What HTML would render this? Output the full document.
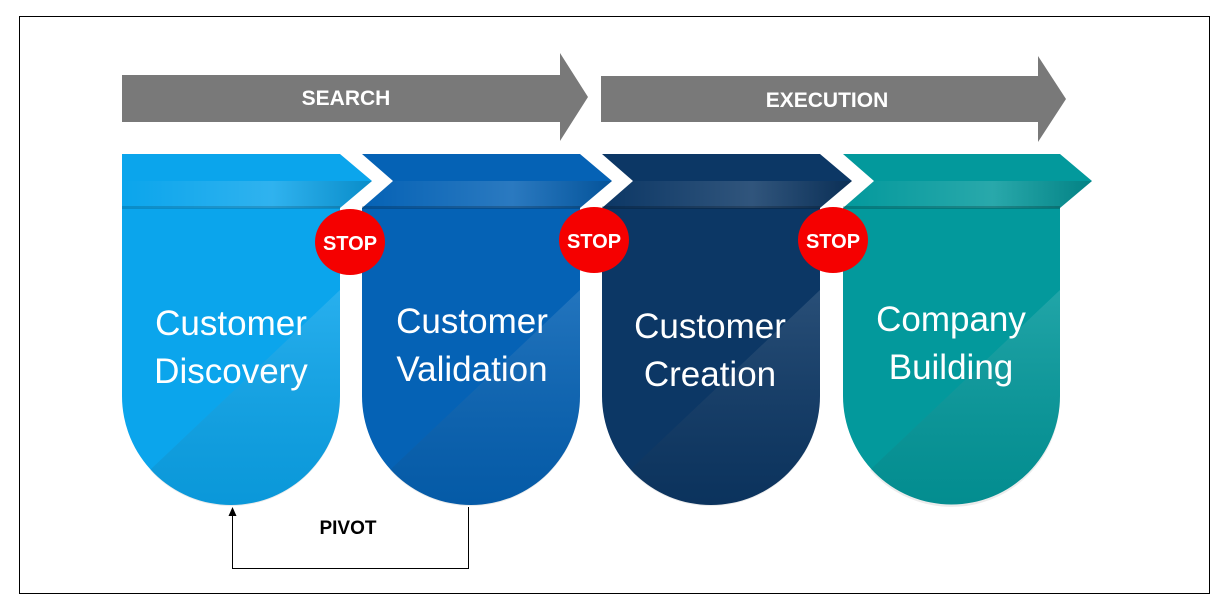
<!DOCTYPE html>
<html><head><meta charset="utf-8"><style>
body{margin:0;background:#fff}
svg{display:block}
text{font-family:"Liberation Sans",sans-serif}
</style></head><body>
<svg width="1227" height="609" viewBox="0 0 1227 609" xmlns="http://www.w3.org/2000/svg">
<defs>
<linearGradient id="band" x1="0" x2="1" y1="0" y2="0">
<stop offset="0" stop-color="#fff" stop-opacity="0"/>
<stop offset="0.6" stop-color="#fff" stop-opacity="0.15"/>
<stop offset="1" stop-color="#000" stop-opacity="0.15"/>
</linearGradient>
<linearGradient id="sh" x1="0" x2="0" y1="0" y2="1">
<stop offset="0" stop-color="#fff" stop-opacity="0.12"/>
<stop offset="1" stop-color="#000" stop-opacity="0.08"/>
</linearGradient>
</defs>
<rect x="19.5" y="16.5" width="1190" height="577" fill="none" stroke="#000" stroke-width="1"/>
<polygon points="122,75 560,75 560,53 588,97 560,141 560,122 122,122" fill="#797979"/>
<text x="346" y="105" font-size="21" font-weight="bold" fill="#fff" text-anchor="middle">SEARCH</text>
<polygon points="601,76 1038,76 1038,56 1066,99 1038,142 1038,122 601,122" fill="#797979"/>
<text x="827" y="107" font-size="21" font-weight="bold" fill="#fff" text-anchor="middle">EXECUTION</text>

<g>
<path d="M122,154 L340,154 L372,181 L340,208 L340,396 A109,109 0 0 1 122,396 Z" fill="#0ba5ec"/>
<path d="M122,181 L372,181 L340,208 L122,208 Z" fill="url(#band)"/>
<rect x="122" y="206" width="218" height="3" fill="#000" opacity="0.15"/>
<path d="M340,290 L340,396 A109,109 0 0 1 150,470 Z" fill="url(#sh)"/>
<text x="231" y="335" font-size="35" fill="#fff" text-anchor="middle">Customer</text>
<text x="231" y="383" font-size="35" fill="#fff" text-anchor="middle">Discovery</text>
</g>
<g>
<path d="M362,154 L580,154 L612,181 L580,208 L580,396 A109,109 0 0 1 362,396 L362,208 L393,181 Z" fill="#0562b5"/>
<path d="M393,181 L612,181 L580,208 L362,208 Z" fill="url(#band)"/>
<rect x="362" y="206" width="218" height="3" fill="#000" opacity="0.2"/>
<path d="M580,290 L580,396 A109,109 0 0 1 390,470 Z" fill="url(#sh)"/>
<text x="472" y="333" font-size="35" fill="#fff" text-anchor="middle">Customer</text>
<text x="472" y="381" font-size="35" fill="#fff" text-anchor="middle">Validation</text>
</g>
<g>
<path d="M602,154 L820,154 L852,181 L820,208 L820,396 A109,109 0 0 1 602,396 L602,208 L633,181 Z" fill="#0c3765"/>
<path d="M633,181 L852,181 L820,208 L602,208 Z" fill="url(#band)"/>
<rect x="602" y="206" width="218" height="3" fill="#000" opacity="0.2"/>
<path d="M820,290 L820,396 A109,109 0 0 1 630,470 Z" fill="url(#sh)"/>
<text x="710" y="338" font-size="35" fill="#fff" text-anchor="middle">Customer</text>
<text x="710" y="386" font-size="35" fill="#fff" text-anchor="middle">Creation</text>
</g>
<g>
<path d="M843,154 L1060,154 L1092,181 L1060,208 L1060,396 A108.5,108.5 0 0 1 843,396 L843,208 L874,181 Z" fill="#03999c"/>
<path d="M874,181 L1092,181 L1060,208 L843,208 Z" fill="url(#band)"/>
<rect x="843" y="206" width="217" height="3" fill="#000" opacity="0.2"/>
<path d="M1060,290 L1060,396 A108.5,108.5 0 0 1 870,470 Z" fill="url(#sh)"/>
<text x="951" y="331" font-size="35" fill="#fff" text-anchor="middle">Company</text>
<text x="951" y="379" font-size="35" fill="#fff" text-anchor="middle">Building</text>
</g>

<ellipse cx="350" cy="242" rx="35" ry="33" fill="#f50000"/>
<text x="350" y="250" font-size="20" font-weight="bold" fill="#fff" text-anchor="middle">STOP</text>
<ellipse cx="594" cy="240" rx="35" ry="33" fill="#f50000"/>
<text x="594" y="248" font-size="20" font-weight="bold" fill="#fff" text-anchor="middle">STOP</text>
<ellipse cx="833" cy="240" rx="35" ry="33" fill="#f50000"/>
<text x="833" y="248" font-size="20" font-weight="bold" fill="#fff" text-anchor="middle">STOP</text>

<polyline points="468.5,507 468.5,568.5 232.5,568.5 232.5,514" fill="none" stroke="#000" stroke-width="1"/>
<polygon points="232.5,507 228.5,516 236.5,516" fill="#000"/>
<text x="348" y="534" font-size="19" font-weight="bold" fill="#000" text-anchor="middle">PIVOT</text>
</svg>
</body></html>
